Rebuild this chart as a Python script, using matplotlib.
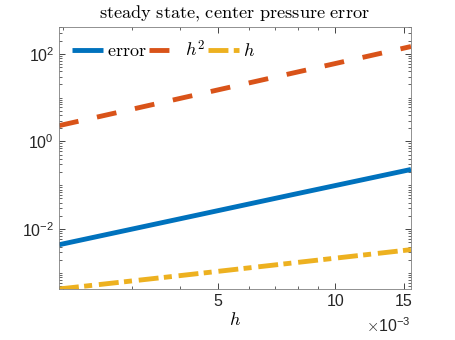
import numpy as np
import matplotlib
matplotlib.use("Agg")
import matplotlib.pyplot as plt
from matplotlib.ticker import FixedLocator, LogLocator, NullFormatter

plt.rcParams['mathtext.fontset'] = 'cm'
plt.rcParams['font.family'] = ['Liberation Sans', 'DejaVu Sans']

# grid spacing and errors
h = [1/512, 1/256, 1/128, 1/64]
err = [4.4e-3, 1.65e-2, 6.2e-2, 0.23]
ref_h2 = [2.3, 9.2, 36.8, 147.0]
ref_h = [4.3e-4, 8.5e-4, 1.7e-3, 3.4e-3]

gray = '#262626'
fig = plt.figure(figsize=(4.55, 3.4), dpi=100)
ax = fig.add_axes([59/455, 1 - 289/340, (411-59)/455, (289-27)/340])

lw = 3.5
ax.loglog(h, err, color='#0072BD', lw=lw, solid_capstyle='butt', label=r'$\mathrm{error}$')
ax.loglog(h, ref_h2, color='#D95319', lw=lw, ls=(0, (4.1, 3.9)), label=r'$h^2$')
ax.loglog(h, ref_h, color='#EDB120', lw=lw, ls=(0, (4.1, 1.1, 1.65, 1.4)), label=r'$h$')

ax.set_xlim(1/512, 1/64)
ax.set_ylim(4.3e-4, 410)

ax.xaxis.set_major_locator(FixedLocator([5e-3, 10e-3, 15e-3]))
ax.set_xticklabels(['5', '10', '15'])
ax.xaxis.set_minor_locator(LogLocator(base=10, subs=np.arange(1, 10)))
ax.xaxis.set_minor_formatter(NullFormatter())
ax.yaxis.set_major_locator(FixedLocator([1e-2, 1, 1e2]))
ax.set_yticklabels([r'$\mathdefault{10^{-2}}$', r'$\mathdefault{10^{0}}$', r'$\mathdefault{10^{2}}$'])
ax.yaxis.set_minor_locator(LogLocator(base=10, subs=np.arange(1, 10), numticks=20))
ax.yaxis.set_minor_formatter(NullFormatter())

ax.tick_params(which='both', direction='in', top=True, right=True, colors=gray,
               labelsize=11.5, labelcolor=gray)
ax.tick_params(which='major', length=4, width=0.6)
ax.tick_params(which='minor', length=2, width=0.5)
for s in ax.spines.values():
    s.set_color('#7f7f7f')
    s.set_linewidth(0.6)

ax.text(1.0, -0.105, r'$\times\mathdefault{10^{-3}}$', transform=ax.transAxes,
        ha='right', va='top', fontsize=11.5, color=gray)

ax.set_title(r'$\mathrm{steady\ state{,}\ center\ pressure\ error}$', fontsize=13.2, pad=6)
ax.set_xlabel(r'$h$', fontsize=13, labelpad=2)

ax.legend(loc='upper left', ncol=3, frameon=False, fontsize=13,
          handlelength=1.75, handletextpad=0.2, columnspacing=0.15,
          borderaxespad=0.3)

fig.savefig('out.png', dpi=100)
